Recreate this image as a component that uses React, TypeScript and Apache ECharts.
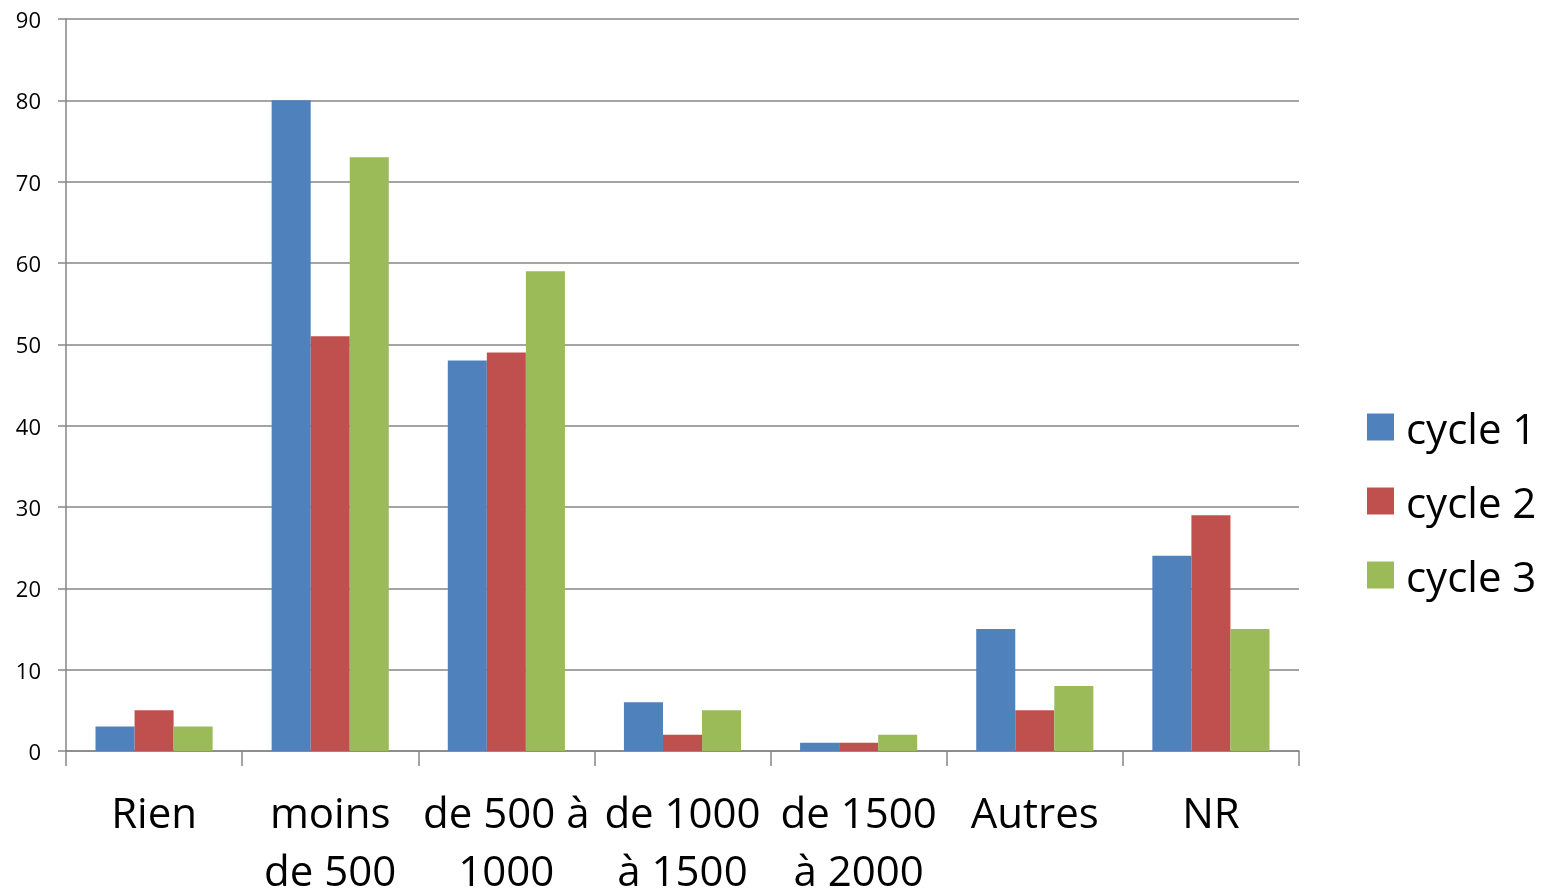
import React, { useEffect, useRef } from "react";
import * as echarts from "echarts";

const categories = ["Rien", "moins de 500", "de 500 à 1000", "de 1000 à 1500", "de 1500 à 2000", "Autres", "NR"];
const categoryLabels = ["Rien", "moins\nde 500", "de 500 à\n1000", "de 1000\nà 1500", "de 1500\nà 2000", "Autres", "NR"];
const seriesNames = ["cycle 1", "cycle 2", "cycle 3"];
const cycle1 = [3, 80, 48, 6, 1, 15, 24];
const cycle2 = [5, 51, 49, 2, 1, 5, 29];
const cycle3 = [3, 73, 59, 5, 2, 8, 15];
const colors = ["#4F81BD", "#C0504D", "#9BBB59"];

export default function App() {
  const ref = useRef<HTMLDivElement>(null);
  useEffect(() => {
    if (!ref.current) return;
    const chart = echarts.init(ref.current, undefined, { renderer: "svg" });
    const font = "'Open Sans', sans-serif";
    const data = [cycle1, cycle2, cycle3];
    chart.setOption({
      animation: false,
      color: colors,
      grid: { left: 66, right: 243, top: 19, bottom: 140, containLabel: false, outerBoundsMode: "none" },
      legend: {
        orient: "vertical",
        left: 1367,
        top: 405,
        padding: 0,
        itemWidth: 27,
        itemHeight: 27,
        itemGap: 30,
        icon: "rect",
        textStyle: { fontFamily: font, fontSize: 42, color: "#000", lineHeight: 44, padding: [0, 0, 0, 7] },
        data: seriesNames,
      },
      xAxis: {
        type: "category",
        data: categories,
        axisLine: { lineStyle: { color: "#868686", width: 1.5 } },
        axisTick: { show: true, length: 15, lineStyle: { color: "#868686", width: 1.5 } },
        axisLabel: {
          interval: 0,
          margin: 31,
          fontFamily: font,
          fontSize: 42,
          color: "#000",
          lineHeight: 58,
          formatter: (_v: string, i: number) => categoryLabels[i],
        },
      },
      yAxis: {
        type: "value",
        min: 0,
        max: 90,
        interval: 10,
        axisLine: { show: true, lineStyle: { color: "#868686", width: 1.5 } },
        axisTick: { show: true, length: 8, lineStyle: { color: "#868686", width: 1.5 } },
        splitLine: { lineStyle: { color: "#868686", width: 1.5 } },
        axisLabel: { fontFamily: font, fontSize: 22, color: "#000", margin: 25 },
      },
      series: seriesNames.map((name, k) => ({
        name,
        type: "bar",
        data: data[k],
        barGap: "0%",
        barCategoryGap: "33.5%",
        itemStyle: { color: colors[k] },
      })),
    });
    return () => chart.dispose();
  }, []);
  return <div ref={ref} style={{ position: "fixed", left: 0, top: 0, width: 1542, height: 891 }} />;
}
